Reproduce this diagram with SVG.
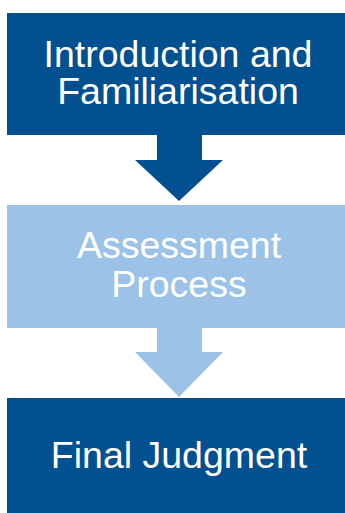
<svg xmlns="http://www.w3.org/2000/svg" width="345" height="513" viewBox="0 0 345 513">
<style>
.dark{fill:#02508F}
.light{fill:#9CC3E7}
.lbl{font-family:"Liberation Sans",Arial,sans-serif;font-size:37.5px;fill:#FFFFFF;text-anchor:middle}
</style>
<rect width="345" height="513" fill="#FFFFFF"/>
<g id="connectors">
<polygon class="dark" points="157,134 202,134 202,160 223,160 179,201 135,160 157,160"/>
<polygon class="light" points="157,327 202,327 202,352 223,352 179,397 135,352 157,352"/>
</g>
<g id="node-intro">
<rect class="dark" x="7" y="13" width="338" height="122"/>
<text class="lbl" x="178" y="67">Introduction and</text>
<text class="lbl" x="178" y="104">Familiarisation</text>
</g>
<g id="node-assessment">
<rect class="light" x="7" y="205" width="338" height="123"/>
<text class="lbl" x="179" y="258">Assessment</text>
<text class="lbl" x="179" y="297">Process</text>
</g>
<g id="node-final">
<rect class="dark" x="7" y="398" width="338" height="115"/>
<text class="lbl" x="179" y="468">Final Judgment</text>
</g>
</svg>
